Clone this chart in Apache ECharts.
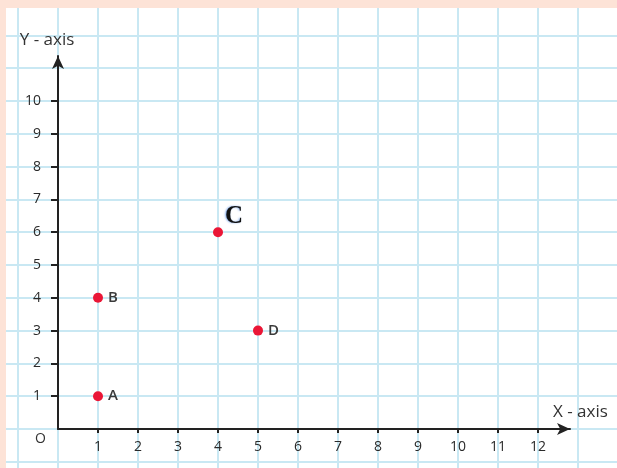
<!DOCTYPE html>
<html>
<head>
<meta charset="utf-8">
<script src="https://cdn.jsdelivr.net/npm/echarts@6/dist/echarts.min.js"></script>
<style>
  html, body { margin: 0; padding: 0; background: #fde3d7; }
  #main { position: absolute; left: 6px; top: 8px; width: 611px; height: 460px; background: #fff; overflow: hidden; }
</style>
</head>
<body>
<div id="main"></div>
<script>
// points
const pointNames = ['A', 'B', 'C', 'D']
const pointX = [1, 1, 4, 5]
const pointY = [1, 4, 6, 3]
// tick labels
const xTicks = [1, 2, 3, 4, 5, 6, 7, 8, 9, 10, 11, 12]
const yTicks = [1, 2, 3, 4, 5, 6, 7, 8, 9, 10]

const labelFont = '"Open Sans", "DejaVu Sans", sans-serif'
const gridColor = '#c9e8f3'
const axisColor = '#222'

const data = pointNames.map(function (n, i) {
  const item = { value: [pointX[i], pointY[i]], name: n }
  if (n === 'C') {
    item.label = {
      fontFamily: '"Liberation Serif", serif',
      fontWeight: 'bold',
      fontSize: 25,
      color: '#111',
      distance: 2,
      offset: [0, -16],
      textShadowColor: 'rgba(40,110,220,0.6)',
      textShadowBlur: 2,
      textShadowOffsetX: -1
    }
  }
  return item
})

const chart = echarts.init(document.getElementById('main'))
chart.setOption({
  animation: false,
  grid: [
    // background squared paper
    { left: -28, right: -1, top: -5.4, bottom: -26.6, outerBoundsMode: 'none', containLabel: false },
    // the drawn axes
    { left: 52, top: 48, width: 512, height: 373, outerBoundsMode: 'none', containLabel: false }
  ],
  xAxis: [
    {
      gridIndex: 0, type: 'value', min: -2, max: 14, interval: 1,
      axisLine: { show: false }, axisTick: { show: false }, axisLabel: { show: false },
      splitLine: { lineStyle: { color: gridColor, width: 2 } }
    },
    {
      gridIndex: 1, type: 'value', min: 0, max: 12.8, interval: 1,
      name: 'X - axis', nameLocation: 'end', nameGap: -17,
      nameTextStyle: { fontFamily: labelFont, fontSize: 17, color: '#333', align: 'left', verticalAlign: 'bottom', padding: [0, 0, 8, 0] },
      axisLine: { lineStyle: { color: axisColor, width: 2 }, symbol: ['none', 'arrow'], symbolSize: [9, 13] },
      axisTick: { length: 4, customValues: xTicks, lineStyle: { color: axisColor, width: 2 } },
      axisLabel: { margin: 11, customValues: xTicks, fontFamily: labelFont, fontSize: 14, color: '#2a2a2a' },
      splitLine: { show: false }
    }
  ],
  yAxis: [
    {
      gridIndex: 0, type: 'value', min: -2, max: 13, interval: 1,
      axisLine: { show: false }, axisTick: { show: false }, axisLabel: { show: false },
      splitLine: { lineStyle: { color: gridColor, width: 2 } }
    },
    {
      gridIndex: 1, type: 'value', min: 0, max: 11.372, interval: 1,
      name: 'Y - axis', nameLocation: 'end', nameGap: 7,
      nameTextStyle: { fontFamily: labelFont, fontSize: 17, color: '#333', padding: [0, 22, 0, 0] },
      axisLine: { lineStyle: { color: axisColor, width: 2 }, symbol: ['none', 'arrow'], symbolSize: [9, 13] },
      axisTick: { length: 7, customValues: yTicks, lineStyle: { color: axisColor, width: 2 } },
      axisLabel: { margin: 17, customValues: yTicks, fontFamily: labelFont, fontSize: 14, color: '#2a2a2a' },
      splitLine: { show: false }
    }
  ],
  graphic: [
    { type: 'text', z: 100, left: 29, top: 424, style: { text: 'O', font: '14px "Open Sans", sans-serif', fill: '#333' } }
  ],
  series: [
    {
      type: 'scatter',
      xAxisIndex: 1, yAxisIndex: 1,
      symbolSize: 10,
      itemStyle: { color: '#ea1636', opacity: 1 },
      label: {
        show: true, position: 'right', distance: 5,
        formatter: '{b}', fontFamily: labelFont, fontSize: 15, fontWeight: 600, color: '#3a3a3a'
      },
      data: data
    }
  ]
})
</script>
</body>
</html>
